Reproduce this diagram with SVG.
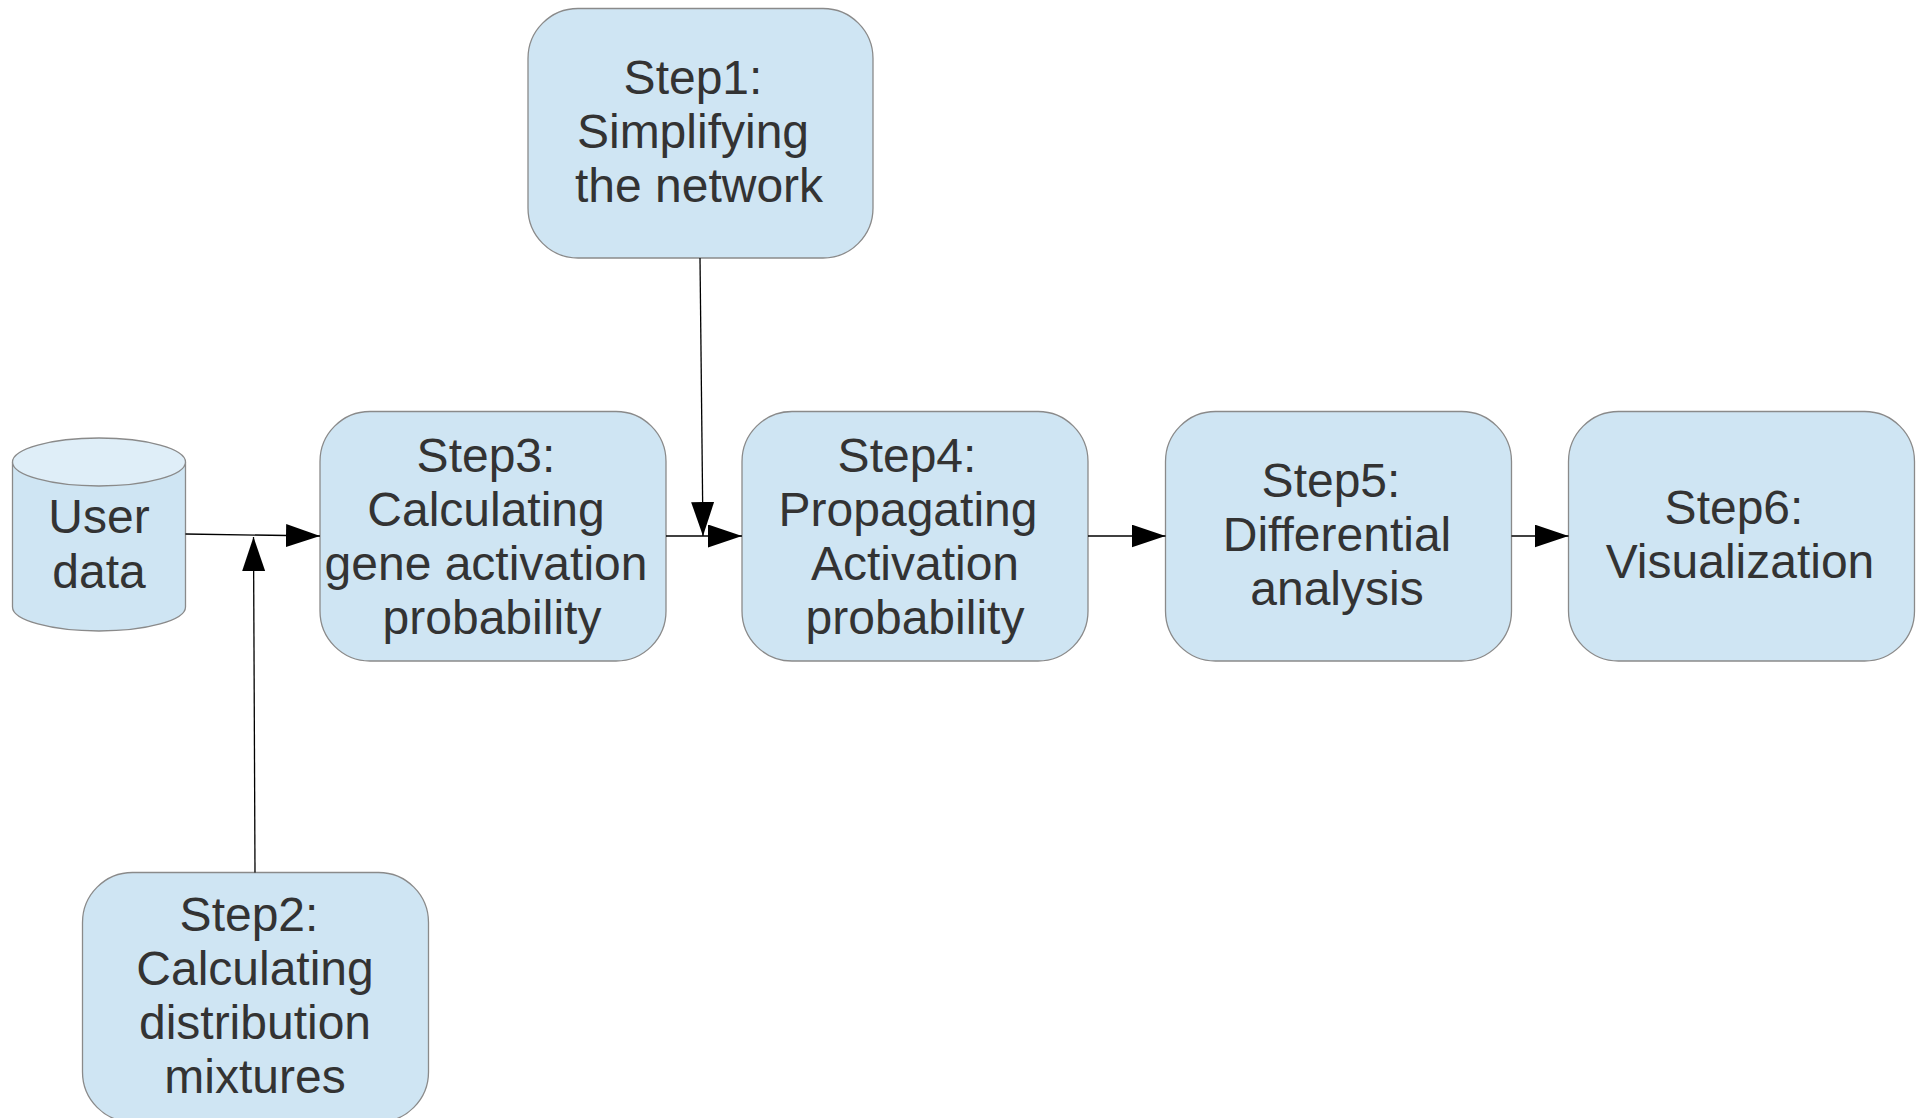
<svg xmlns="http://www.w3.org/2000/svg" width="1920" height="1118" viewBox="0 0 1920 1118">
  <style>
    .box { fill: #cfe5f3; stroke: #8a8a8a; stroke-width: 1.3; }
    .top { fill: #dfeef8; stroke: #8a8a8a; stroke-width: 1.3; }
    .lbl { font-family: "Liberation Sans", Arial, sans-serif; font-size: 48px; fill: #333333; text-anchor: middle; }
    .edge { fill: none; stroke: #000000; stroke-width: 1.3; }
  </style>
  <defs>
    <marker id="arrow" markerUnits="userSpaceOnUse" markerWidth="36" markerHeight="26" refX="34" refY="11.5" orient="auto">
      <path d="M0,0 L34,11.5 L0,23 Z" fill="#000000"/>
    </marker>
  </defs>

  <rect width="1920" height="1118" fill="#ffffff"/>

  <!-- data store -->
  <g id="user-data">
    <path class="box" d="M12.5,462 L12.5,607 A86.5,24 0 0 0 185.5,607 L185.5,462"/>
    <ellipse class="top" cx="99" cy="462" rx="86.5" ry="24"/>
    <text class="lbl" x="99" y="533">User</text>
    <text class="lbl" x="99" y="588">data</text>
  </g>

  <g id="step1">
    <rect class="box" x="528" y="8.5" width="345" height="249.5" rx="50" ry="50"/>
    <text class="lbl" x="693" y="94">Step1:</text>
    <text class="lbl" x="693" y="148">Simplifying</text>
    <text class="lbl" x="699" y="202">the network</text>
  </g>

  <g id="step2">
    <rect class="box" x="82.5" y="872.5" width="346" height="249.5" rx="50" ry="50"/>
    <text class="lbl" x="249" y="931">Step2:</text>
    <text class="lbl" x="255" y="985">Calculating</text>
    <text class="lbl" x="255" y="1039">distribution</text>
    <text class="lbl" x="255" y="1093">mixtures</text>
  </g>

  <g id="step3">
    <rect class="box" x="320" y="411.5" width="346" height="249.5" rx="50" ry="50"/>
    <text class="lbl" x="486" y="472">Step3:</text>
    <text class="lbl" x="486" y="526">Calculating</text>
    <text class="lbl" x="486" y="580">gene activation</text>
    <text class="lbl" x="492" y="634">probability</text>
  </g>

  <g id="step4">
    <rect class="box" x="742" y="411.5" width="346" height="249.5" rx="50" ry="50"/>
    <text class="lbl" x="907" y="472">Step4:</text>
    <text class="lbl" x="908" y="526">Propagating</text>
    <text class="lbl" x="915" y="580">Activation</text>
    <text class="lbl" x="915" y="634">probability</text>
  </g>

  <g id="step5">
    <rect class="box" x="1165.5" y="411.5" width="346" height="249.5" rx="50" ry="50"/>
    <text class="lbl" x="1331" y="497">Step5:</text>
    <text class="lbl" x="1337" y="551">Differential</text>
    <text class="lbl" x="1337" y="605">analysis</text>
  </g>

  <g id="step6">
    <rect class="box" x="1568.5" y="411.5" width="346" height="249.5" rx="50" ry="50"/>
    <text class="lbl" x="1734" y="524">Step6:</text>
    <text class="lbl" x="1740" y="578">Visualization</text>
  </g>

  <g id="connectors">
    <path class="edge" d="M185.5,534 L320,536" marker-end="url(#arrow)"/>
    <path class="edge" d="M255,872.5 L253.5,537" marker-end="url(#arrow)"/>
    <path class="edge" d="M700,258 L703,536" marker-end="url(#arrow)"/>
    <path class="edge" d="M666,536 L742,536" marker-end="url(#arrow)"/>
    <path class="edge" d="M1088,536 L1165.5,536" marker-end="url(#arrow)"/>
    <path class="edge" d="M1511.5,536 L1568.5,536" marker-end="url(#arrow)"/>
  </g>
</svg>
